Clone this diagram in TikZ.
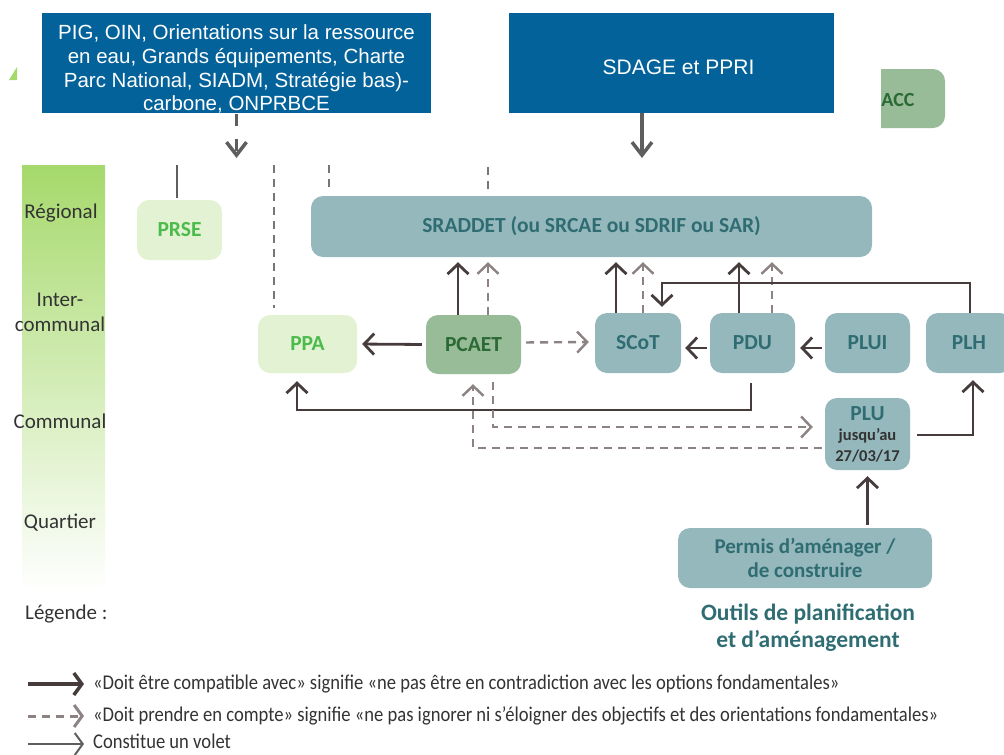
\documentclass[tikz,border=0pt]{standalone}
\usepackage{fontspec}
\setmainfont{Carlito}
\newfontfamily\arialfont{Liberation Sans}
\newfontfamily\condfont[FakeStretch=0.885]{Carlito}
\usetikzlibrary{arrows.meta}
\definecolor{topblue}{HTML}{04629B}
\definecolor{tealfill}{HTML}{95B8BD}
\definecolor{tealtext}{HTML}{2F6D73}
\definecolor{sagefill}{HTML}{98BB98}
\definecolor{sagetext}{HTML}{2C6A35}
\definecolor{lgfill}{HTML}{E2F2D2}
\definecolor{lgtext}{HTML}{4CBB4C}
\definecolor{arrowdark}{HTML}{463C3C}
\definecolor{dashgray}{HTML}{8C8282}
\definecolor{topgray}{HTML}{5E5E5E}
\definecolor{bargreen}{HTML}{A6D96C}
\definecolor{labeltext}{HTML}{333333}
\tikzset{
  box/.style={rounded corners=12pt, inner sep=0pt, align=center,
    font=\bfseries\fontsize{21.5}{24}\selectfont},
  tealbox/.style={box, fill=tealfill, text=tealtext},
  sagebox/.style={box, fill=sagefill, text=sagetext},
  lgbox/.style={box, fill=lgfill, text=lgtext},
  bluebox/.style={fill=topblue, text=white, inner sep=0pt, align=center},
  levellabel/.style={text=labeltext, align=center, font=\fontsize{21}{25}\selectfont},
  legendtext/.style={text=labeltext, anchor=west, inner sep=0pt, font=\condfont\fontsize{21}{22}\selectfont},
  barb/.tip={Straight Barb[length=10pt,width=21pt]},
  comp/.style={draw=arrowdark, line width=2.8pt, -barb},
  pec/.style={draw=dashgray, line width=2.4pt, dash pattern=on 8pt off 6pt, -barb},
  topsolid/.style={draw=topgray, line width=3.5pt, -{Straight Barb[length=13pt,width=20pt]}},
  topdash/.style={draw=topgray, line width=3.5pt, dash pattern=on 12pt off 13pt, -{Straight Barb[length=13pt,width=20pt]}},
  vdash/.style={draw=topgray!85, line width=2.8pt, dash pattern=on 8pt off 6pt},
  vsolid/.style={draw=topgray, line width=2.8pt},
}
\begin{document}
\begin{tikzpicture}[x=1pt,y=-1pt]
\useasboundingbox (0,0) rectangle (1004,755);
% level bar
\shade[top color=bargreen, bottom color=white] (22,165) rectangle (105,592);
\fill[bargreen] (17,67) -- (17,80) -- (9,80) -- cycle;
\node[levellabel] (lreg) at (61,213) {Régional};
\node[levellabel] (linter) at (60,312) {Inter-\\communal};
\node[levellabel] (lcom) at (60,421) {Communal};
\node[levellabel] (lqua) at (60,523) {Quartier};

% top blue boxes
\node[bluebox, minimum width=389pt, minimum height=100pt,
  font=\arialfont\fontsize{20.5}{23.7}\selectfont] (topleft) at (236.5,63)
  {\rule{0pt}{27pt}PIG, OIN, Orientations sur la ressource\\en eau, Grands équipements, Charte\\Parc National, SIADM, Stratégie bas)-\\carbone, ONPRBCE};
\node[bluebox, minimum width=325pt, minimum height=100pt,
  font=\arialfont\fontsize{21}{24}\selectfont] (sdage) at (671.5,63) {\rule{0pt}{23pt}\hspace{14pt}SDAGE et PPRI};

% ACC (cut on the left)
\begin{scope}
  \clip (881,0) rectangle (1004,755);
  \fill[sagefill, rounded corners=12pt] (850,69) rectangle (945,128);
\end{scope}
\node[text=sagetext, font=\bfseries\fontsize{20}{22}\selectfont, inner sep=0pt] (acc) at (898,100) {ACC};

% nodes
\node[lgbox, minimum width=85pt, minimum height=60pt] (prse) at (179.5,230) {PRSE};
\node[tealbox, minimum width=561pt, minimum height=61pt] (sraddet) at (591.5,226.5) {SRADDET (ou SRCAE ou SDRIF ou SAR)};
\node[lgbox, minimum width=99pt, minimum height=58pt] (ppa) at (307.5,344) {PPA};
\node[sagebox, minimum width=95pt, minimum height=59pt] (pcaet) at (473.5,344.5) {PCAET};
\node[tealbox, minimum width=86pt, minimum height=60pt] (scot) at (638,343) {SCoT};
\node[tealbox, minimum width=85pt, minimum height=60pt] (pdu) at (752.5,343) {PDU};
\node[tealbox, minimum width=85pt, minimum height=60pt] (plui) at (867.5,343) {PLUI};
\node[tealbox, minimum width=86pt, minimum height=60pt] (plh) at (969,343) {PLH};
\node[tealbox, minimum width=85pt, minimum height=72pt] (plu) at (867.5,434)
  {PLU\\[-4pt]{\color{labeltext}\fontsize{16.5}{18}\selectfont jusqu’au}\\[-3pt]{\color{labeltext}\fontsize{16.5}{18}\selectfont 27/03/17}};
\node[tealbox, minimum width=254pt, minimum height=60pt, font=\bfseries\fontsize{21}{24}\selectfont] (permis) at (805,558)
  {Permis d’aménager /\\de construire};
\node[text=tealtext, align=center, font=\bfseries\fontsize{23.5}{27}\selectfont] (outils) at (808,628)
  {Outils de planification\\et d’aménagement};
\node[text=labeltext, anchor=west, inner sep=0pt, font=\fontsize{21}{22}\selectfont] (legende) at (25,614) {Légende :};

% top arrows
\coordinate (t1) at (236.5,158);
\coordinate (t2) at (642,158);
\draw[topdash] (topleft.south) -- (t1);
\draw[topsolid] ([xshift=-29.5pt]sdage.south) -- (t2);

% vertical lines from above
\coordinate (v0) at (177,165);
\coordinate (v1) at (274,165);
\coordinate (v2) at (329,165);
\coordinate (v3) at (488,167);
\draw[vsolid, shorten >=2pt] (v0) -- (v0 |- prse.north);
\draw[vdash, shorten >=7pt] (v1) -- (v1 |- ppa.north);
\draw[vdash, shorten >=3pt] (v2) -- (v2 |- sraddet.north);
\draw[vdash, shorten >=3pt] (v3) -- (v3 |- sraddet.north);

% up arrows to SRADDET
\draw[comp, shorten >=5pt] ([xshift=-15.5pt]pcaet.north) -- ([xshift=-15.5pt]pcaet.north |- sraddet.south);
\draw[pec, shorten >=5pt] ([xshift=14.5pt]pcaet.north) -- ([xshift=14.5pt]pcaet.north |- sraddet.south);
\draw[comp, shorten >=5pt] ([xshift=-22pt]scot.north) -- ([xshift=-22pt]scot.north |- sraddet.south);
\draw[pec, shorten >=5pt] ([xshift=5pt]scot.north) -- ([xshift=5pt]scot.north |- sraddet.south);
\draw[comp, shorten >=5pt] ([xshift=-13.5pt]pdu.north) -- ([xshift=-13.5pt]pdu.north |- sraddet.south);
\draw[pec, shorten >=5pt] ([xshift=19.5pt]pdu.north) -- ([xshift=19.5pt]pdu.north |- sraddet.south);

% horizontal arrows
\draw[comp, shorten <=4pt, shorten >=5pt] (pcaet.west) -- (ppa.east);
\draw[pec, shorten <=5pt, shorten >=6pt] ([yshift=2pt]pcaet.east) -- ([yshift=1pt]scot.west);
\draw[comp, shorten <=3pt, shorten >=4pt] ([yshift=-5pt]pdu.west) -- ([yshift=-5pt]scot.east);
\draw[comp, shorten <=3pt, shorten >=5pt] ([yshift=-5pt]plui.west) -- ([yshift=-5pt]pdu.east);

% PLH -> SCoT
\coordinate (j1) at (970,283);
\draw[comp, shorten >=6pt] ([xshift=1pt]plh.north) -- ([xshift=1pt]plh.north |- j1) -| ([xshift=24pt]scot.north);

% PDU -> PPA
\coordinate (yb) at (0,410);
\draw[comp, shorten <=10pt, shorten >=8pt] ([xshift=-1.5pt]pdu.south) -- ([xshift=-1.5pt]pdu.south |- yb) -| ([xshift=-10.5pt]ppa.south);

% PCAET <-> PLU (dashed)
\draw[pec, shorten <=8pt, shorten >=12pt] ([xshift=19.5pt]pcaet.south) |- ([yshift=7pt]plu.west);
\draw[pec, shorten <=3pt, shorten >=10pt] ([yshift=-14pt]plu.west) -| ([xshift=-0.5pt]pcaet.south);

% PLU -> PLH
\draw[comp, shorten <=7pt, shorten >=7pt] ([yshift=-1pt]plu.east) -| ([xshift=4pt]plh.south);

% Permis -> PLU
\draw[comp, shorten <=3pt, shorten >=6pt] (plu.south |- permis.north) -- (plu.south);

% legend
\coordinate (la1) at (28,684); \coordinate (lb1) at (84,684);
\coordinate (la2) at (28,716); \coordinate (lb2) at (84,716);
\coordinate (la3) at (28,744); \coordinate (lb3) at (84,744);
\draw[draw=arrowdark, line width=3.5pt, -{Straight Barb[length=8pt,width=22pt]}] (la1) -- (lb1);
\draw[draw=dashgray, line width=3pt, dash pattern=on 8pt off 6pt, -{Straight Barb[length=8pt,width=22pt]}] (la2) -- (lb2);
\draw[draw=topgray, line width=2pt, -{Straight Barb[length=8pt,width=22pt]}] (la3) -- (lb3);
\node[legendtext] (leg1) at (93,684) {«Doit être compatible avec» signifie «ne pas être en contradiction avec les options fondamentales»};
\node[legendtext] (leg2) at (93,716) {«Doit prendre en compte» signifie «ne pas ignorer ni s’éloigner des objectifs et des orientations fondamentales»};
\node[legendtext] (leg3) at (93,741.5) {Constitue un volet};
\end{tikzpicture}
\end{document}
